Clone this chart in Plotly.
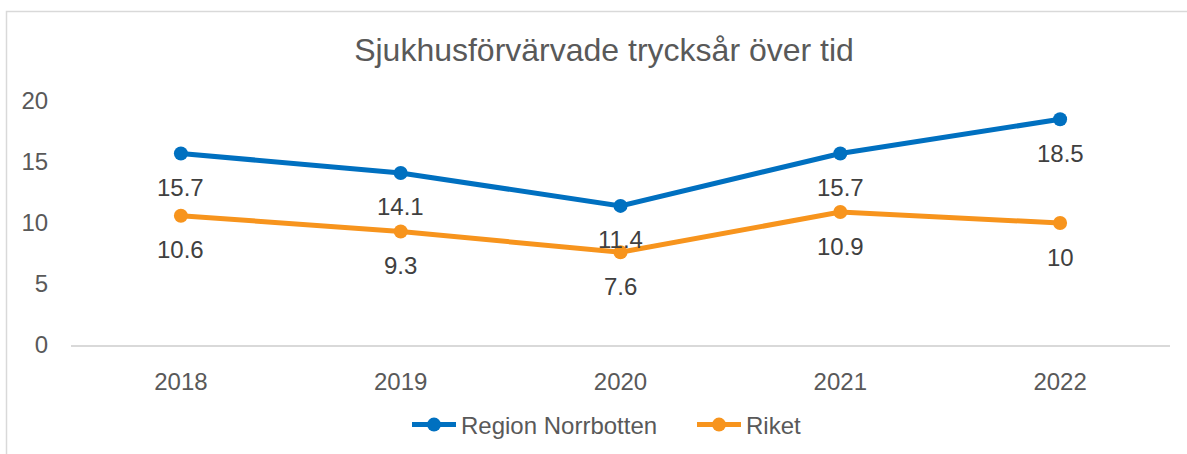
import plotly.graph_objects as go

years = ["2018", "2019", "2020", "2021", "2022"]
norrbotten = [15.7, 14.1, 11.4, 15.7, 18.5]
riket = [10.6, 9.3, 7.6, 10.9, 10]
y_ticks = [0, 5, 10, 15, 20]

W, H = 1187, 454
ML, MR, MT, MB = 71, 17, 101, 109
PW, PH = W - ML - MR, H - MT - MB

BLUE = "#0070C0"
ORANGE = "#F7941D"
FONT = "Liberation Sans, Arial, sans-serif"

fig = go.Figure()

for name, vals, col in [("Region Norrbotten", norrbotten, BLUE), ("Riket", riket, ORANGE)]:
    fig.add_trace(go.Scatter(
        x=years, y=vals, name=name,
        mode="lines+markers",
        line=dict(color=col, width=5),
        marker=dict(color=col, size=14),
        hoverinfo="x+y+name",
    ))
    # data labels below each point (category index as x)
    for i, yv in enumerate(vals):
        fig.add_annotation(
            x=i, y=yv, text=f"{yv:g}", showarrow=False,
            yshift=-34, font=dict(family=FONT, size=24, color="#404040"),
        )

# outer chart border (only left/top visible in the crop)
fig.add_shape(
    type="rect", xref="paper", yref="paper",
    x0=(6.5 - ML) / PW, x1=(W + 20 - ML) / PW,
    y0=-(H + 20 - MT - PH) / PH, y1=(PH + MT - 11.5) / PH,
    line=dict(color="#D9D9D9", width=1.5), fillcolor="rgba(0,0,0,0)",
    layer="below",
)

fig.update_layout(
    width=W, height=H,
    margin=dict(l=ML, r=MR, t=MT, b=MB, autoexpand=False),
    paper_bgcolor="white", plot_bgcolor="white",
    font=dict(family=FONT, size=24, color="#595959"),
    title=dict(
        text="Sjukhusförvärvade trycksår över tid",
        x=604 / W, xref="container", xanchor="center",
        y=1 - 50 / H, yref="container", yanchor="middle",
        font=dict(family=FONT, size=32, color="#595959"),
    ),
    xaxis=dict(
        type="category", range=[-0.5, 4.5], automargin=False,
        showgrid=False, zeroline=False,
        showline=True, linecolor="#D9D9D9", linewidth=1.5,
        ticks="outside", ticklen=14, tickcolor="rgba(0,0,0,0)",
        tickfont=dict(size=24, color="#595959"),
    ),
    yaxis=dict(
        range=[0, 20], tickvals=y_ticks, automargin=False,
        showgrid=False, zeroline=False, showline=False,
        ticks="outside", ticklen=17, tickcolor="rgba(0,0,0,0)",
        tickfont=dict(size=24, color="#595959"),
    ),
    showlegend=True,
    legend=dict(
        orientation="h", x=(405 + 2) / W, xref="container", xanchor="left",
        y=1 - 425 / H, yref="container", yanchor="middle",
        font=dict(family=FONT, size=24, color="#595959"),
        itemwidth=44, traceorder="normal",
        entrywidth=226,
    ),
)

fig.write_html(
    "out.html",
    config={"displayModeBar": False},
    post_script="document.body.style.margin='0';",
)
